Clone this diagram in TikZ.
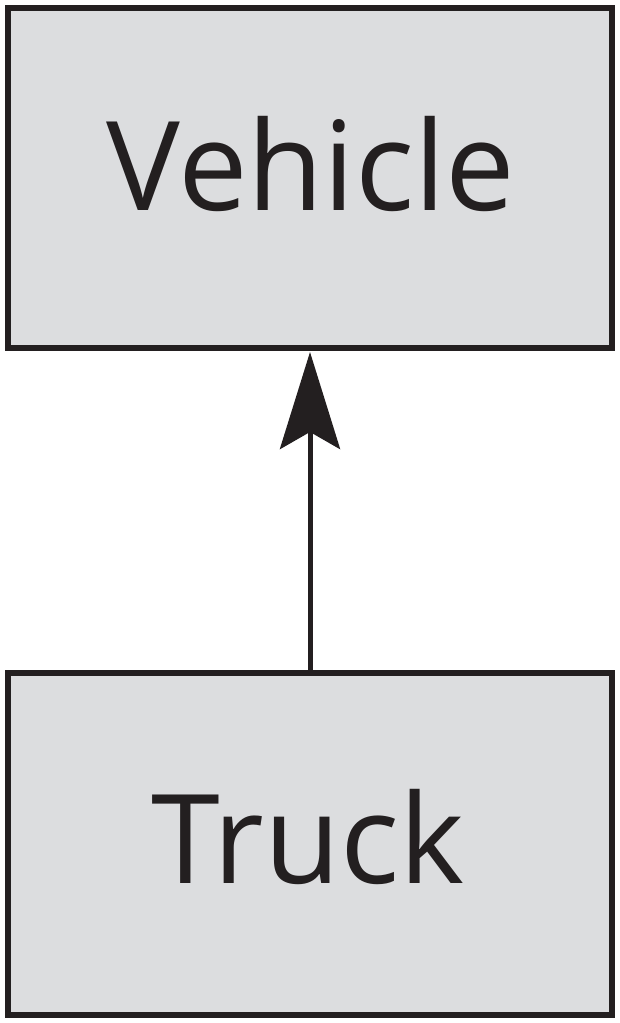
\documentclass[tikz,border=0pt]{standalone}
\usepackage{fontspec}
\setmainfont{Open Sans}
\usetikzlibrary{arrows.meta}
\definecolor{boxgrey}{HTML}{DCDDDF}
\definecolor{ink}{HTML}{231F20}
\begin{document}
\begin{tikzpicture}[x=1pt,y=-1pt,
  classbox/.style={draw=ink,line width=6pt,fill=boxgrey},
  label/.style={font=\fontsize{124}{134}\selectfont,text=ink}]
\useasboundingbox (0,0) rectangle (620,1023);
\node[classbox,minimum width=604pt,minimum height=340pt,inner sep=0pt] (vehicle) at (310,178) {};
\node[label] at (311,164) {Vehicle};
\node[classbox,minimum width=604pt,minimum height=342pt,inner sep=0pt] (truck) at (310,844) {};
\node[label] at (308,837) {Truck};
\draw[ink,line width=5pt,-{Stealth[length=97pt,width=60pt,inset=17pt]}] (truck.north) -- ([yshift=-1pt]vehicle.south);
\end{tikzpicture}
\end{document}
